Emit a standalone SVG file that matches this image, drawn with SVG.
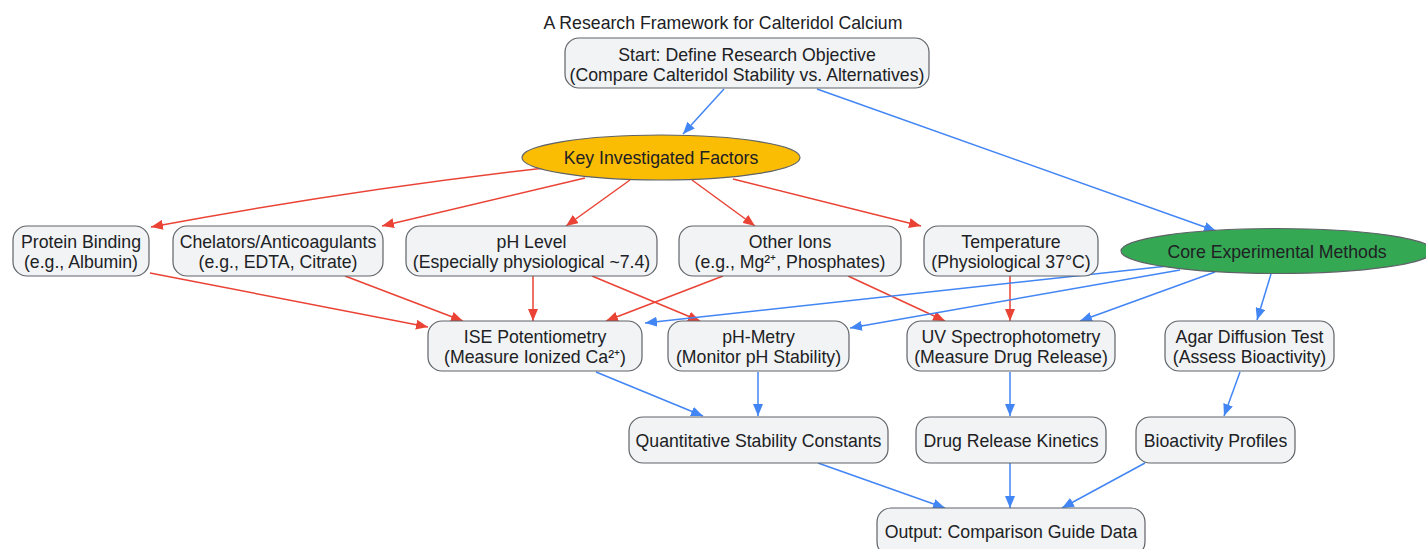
<svg xmlns="http://www.w3.org/2000/svg" width="1426" height="549" viewBox="0 0 1426 549">
<style>
text{font-family:"Liberation Sans",Arial,sans-serif;font-size:17.7px;fill:#202124;text-anchor:middle}
.n{fill:#f1f3f4;stroke:#5f6368;stroke-width:1.2}
.r{stroke:#ea4335;stroke-width:1.5;fill:none;marker-end:url(#ar)}
.b{stroke:#4285f4;stroke-width:1.5;fill:none;marker-end:url(#ab)}
</style>
<defs>
<marker id="ar" markerUnits="userSpaceOnUse" markerWidth="13" markerHeight="10" refX="12" refY="5" orient="auto"><path d="M0,0 L12,5 L0,10 z" fill="#ea4335"/></marker>
<marker id="ab" markerUnits="userSpaceOnUse" markerWidth="13" markerHeight="10" refX="12" refY="5" orient="auto"><path d="M0,0 L12,5 L0,10 z" fill="#4285f4"/></marker>
</defs>
<rect width="1426" height="549" fill="#ffffff"/>
<text x="723" y="29">A Research Framework for Calteridol Calcium</text>
<g id="edges">
<line class="b" x1="724" y1="89" x2="683" y2="134"/>
<line class="b" x1="817" y1="89" x2="1216" y2="231"/>
<path class="r" d="M545,168 Q350,190 151,227"/>
<line class="r" x1="585" y1="178" x2="382" y2="226"/>
<line class="r" x1="630" y1="180" x2="566" y2="226"/>
<line class="r" x1="692" y1="180" x2="755" y2="226"/>
<line class="r" x1="733" y1="179" x2="921" y2="226"/>
<line class="r" x1="150" y1="273" x2="428" y2="327"/>
<line class="r" x1="345" y1="276" x2="463" y2="321"/>
<line class="r" x1="533" y1="276" x2="533" y2="321"/>
<line class="r" x1="592" y1="276" x2="700" y2="321"/>
<line class="r" x1="723" y1="276" x2="606" y2="321"/>
<line class="r" x1="848" y1="276" x2="945" y2="321"/>
<line class="r" x1="1010" y1="276" x2="1010" y2="321"/>
<line class="b" x1="1168" y1="266" x2="645" y2="323"/>
<line class="b" x1="1180" y1="270" x2="850" y2="328"/>
<line class="b" x1="1215" y1="272" x2="1080" y2="321"/>
<line class="b" x1="1271" y1="274" x2="1257" y2="320"/>
<line class="b" x1="596" y1="372" x2="703" y2="416"/>
<line class="b" x1="758" y1="372" x2="758" y2="416"/>
<line class="b" x1="1010" y1="372" x2="1010" y2="416"/>
<line class="b" x1="1240" y1="372" x2="1224" y2="416"/>
<line class="b" x1="818" y1="463" x2="945" y2="508"/>
<line class="b" x1="1010" y1="463" x2="1010" y2="508"/>
<line class="b" x1="1145" y1="463" x2="1062" y2="508"/>
</g>
<g id="start"><rect class="n" x="565" y="38" width="364" height="50" rx="14"/><text x="747" y="61">Start: Define Research Objective</text><text x="747" y="81">(Compare Calteridol Stability vs. Alternatives)</text></g>
<g id="factors"><ellipse cx="661" cy="157.5" rx="139" ry="22.5" fill="#fbbc04" stroke="#5f6368" stroke-width="1.2"/><text x="661" y="164">Key Investigated Factors</text></g>
<g id="methods"><ellipse cx="1277" cy="251" rx="156" ry="22.5" fill="#34a853" stroke="#5f6368" stroke-width="1.2"/><text x="1277" y="258">Core Experimental Methods</text></g>
<g id="protein"><rect class="n" x="13" y="226" width="136" height="50" rx="14"/><text x="81" y="248">Protein Binding</text><text x="81" y="268">(e.g., Albumin)</text></g>
<g id="chelators"><rect class="n" x="173" y="226" width="210" height="50" rx="14"/><text x="278" y="248">Chelators/Anticoagulants</text><text x="278" y="268">(e.g., EDTA, Citrate)</text></g>
<g id="ph"><rect class="n" x="406" y="226" width="251" height="50" rx="14"/><text x="531.5" y="248">pH Level</text><text x="531.5" y="268">(Especially physiological ~7.4)</text></g>
<g id="ions"><rect class="n" x="679" y="226" width="222" height="50" rx="14"/><text x="790" y="248">Other Ions</text><text x="790" y="268">(e.g., Mg²⁺, Phosphates)</text></g>
<g id="temp"><rect class="n" x="924" y="226" width="174" height="50" rx="14"/><text x="1011" y="248">Temperature</text><text x="1011" y="268">(Physiological 37°C)</text></g>
<g id="ise"><rect class="n" x="428" y="321" width="214" height="50" rx="14"/><text x="535" y="343">ISE Potentiometry</text><text x="535" y="363">(Measure Ionized Ca²⁺)</text></g>
<g id="phmetry"><rect class="n" x="668" y="321" width="181" height="50" rx="14"/><text x="758.5" y="343">pH-Metry</text><text x="758.5" y="363">(Monitor pH Stability)</text></g>
<g id="uv"><rect class="n" x="907" y="321" width="208" height="50" rx="14"/><text x="1011" y="343">UV Spectrophotometry</text><text x="1011" y="363">(Measure Drug Release)</text></g>
<g id="agar"><rect class="n" x="1165" y="321" width="169" height="50" rx="14"/><text x="1249.5" y="343">Agar Diffusion Test</text><text x="1249.5" y="363">(Assess Bioactivity)</text></g>
<g id="quant"><rect class="n" x="629" y="417" width="259" height="46" rx="14"/><text x="758.5" y="447">Quantitative Stability Constants</text></g>
<g id="kinetics"><rect class="n" x="916" y="417" width="190" height="46" rx="14"/><text x="1011" y="447">Drug Release Kinetics</text></g>
<g id="bio"><rect class="n" x="1136" y="417" width="159" height="46" rx="14"/><text x="1215.5" y="447">Bioactivity Profiles</text></g>
<g id="output"><rect class="n" x="877" y="508" width="268" height="48" rx="14"/><text x="1011" y="538">Output: Comparison Guide Data</text></g>
</svg>
